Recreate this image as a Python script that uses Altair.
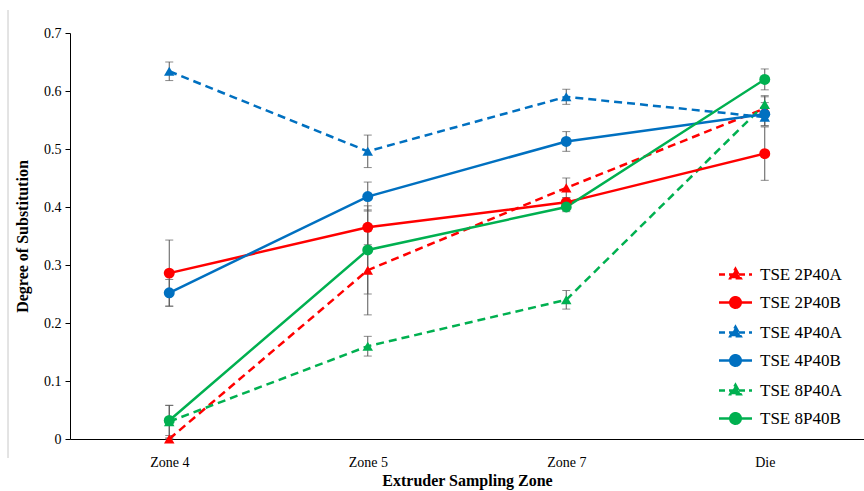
import altair as alt
import pandas as pd

zones = ["Zone 4", "Zone 5", "Zone 7", "Die"]
series = ["TSE 2P40A", "TSE 2P40B", "TSE 4P40A", "TSE 4P40B", "TSE 8P40A", "TSE 8P40B"]
colors = ["#FF0000", "#FF0000", "#0070C0", "#0070C0", "#00B050", "#00B050"]

v_2P40A = [0.000, 0.291, 0.433, 0.570]
v_2P40B = [0.286, 0.365, 0.408, 0.492]
v_4P40A = [0.634, 0.496, 0.590, 0.555]
v_4P40B = [0.252, 0.418, 0.513, 0.560]
v_8P40A = [0.030, 0.160, 0.240, 0.577]
v_8P40B = [0.032, 0.326, 0.400, 0.620]

e_2P40A = [0.000, 0.077, 0.017, 0.020]
e_2P40B = [0.057, 0.030, 0.008, 0.046]
e_4P40A = [0.016, 0.028, 0.013, 0.015]
e_4P40B = [0.023, 0.025, 0.017, 0.020]
e_8P40A = [0.028, 0.017, 0.016, 0.015]
e_8P40B = [0.026, 0.076, 0.008, 0.018]

values = [v_2P40A, v_2P40B, v_4P40A, v_4P40B, v_8P40A, v_8P40B]
errors = [e_2P40A, e_2P40B, e_4P40A, e_4P40B, e_8P40A, e_8P40B]

rows = []
for s, vals, errs in zip(series, values, errors):
    for z, v, e in zip(zones, vals, errs):
        rows.append({"zone": z, "series": s, "value": v, "lo": v - e, "hi": v + e,
                     "kind": "A" if s.endswith("A") else "B"})
df = pd.DataFrame(rows)

FONT = "Liberation Serif"

tri = "M0,-1.15 L1.05,0.75 L-1.05,0.75 Z"
circ = "M1.05,0 A1.05,1.05 0 1,1 -1.05,0 A1.05,1.05 0 1,1 1.05,0 Z"
line_seg = "M-3.3,0 L3.3,0 "
shapes = [line_seg + (tri if s.endswith("A") else circ) for s in series]
dashes = [[6, 4] if s.endswith("A") else [1, 0] for s in series]

x_enc = alt.X("zone:N", sort=zones, scale=alt.Scale(type="point", padding=0.5),
              axis=alt.Axis(title="Extruder Sampling Zone", labelAngle=0, ticks=False,
                            labelPadding=16, titlePadding=3, domainColor="black"))
y_scale = alt.Scale(domain=[0, 0.7], nice=False)
y_enc = alt.Y("value:Q", scale=y_scale,
              axis=alt.Axis(title="Degree of Substitution", values=[0, 0.1, 0.2, 0.3, 0.4, 0.5, 0.6, 0.7],
                            labelExpr="datum.value == 0 ? '0' : format(datum.value, '.1f')",
                            grid=False, tickSize=5, tickColor="black", domainColor="black",
                            labelPadding=4, titlePadding=13))

base = alt.Chart(df)

legend = alt.Legend(title=None, orient="none", legendX=657, legendY=233,
                    labelFont=FONT, labelFontSize=17, labelColor="black",
                    labelOffset=16, rowPadding=8, symbolSize=100, symbolStrokeWidth=2.5,
                    symbolOpacity=1, padding=0)

legend_layer = base.mark_point(filled=True, opacity=0, size=100).encode(
    x=x_enc, y=y_enc,
    fill=alt.Fill("series:N", scale=alt.Scale(domain=series, range=colors), legend=legend),
    stroke=alt.Stroke("series:N", scale=alt.Scale(domain=series, range=colors), legend=legend),
    shape=alt.Shape("series:N", scale=alt.Scale(domain=series, range=shapes), legend=legend),
    strokeDash=alt.StrokeDash("series:N", scale=alt.Scale(domain=series, range=dashes), legend=legend),
)

err_rule = base.mark_rule(color="#595959", strokeWidth=1).encode(
    x=x_enc, y=alt.Y("lo:Q", scale=y_scale), y2="hi:Q")
cap_lo = base.mark_tick(color="#595959", size=8, thickness=1).encode(
    x=x_enc, y=alt.Y("lo:Q", scale=y_scale))
cap_hi = base.mark_tick(color="#595959", size=8, thickness=1).encode(
    x=x_enc, y=alt.Y("hi:Q", scale=y_scale))

col = alt.Color("series:N", scale=alt.Scale(domain=series, range=colors), legend=None)

lines_a = base.transform_filter("datum.kind == 'A'").mark_line(strokeWidth=2.5, strokeDash=[8, 5]).encode(
    x=x_enc, y=y_enc, color=col, detail="series:N")
lines_b = base.transform_filter("datum.kind == 'B'").mark_line(strokeWidth=2.5).encode(
    x=x_enc, y=y_enc, color=col, detail="series:N")
pts_a = base.transform_filter("datum.kind == 'A'").mark_point(shape="triangle-up", filled=True, size=110, opacity=1).encode(
    x=x_enc, y=y_enc, color=col)
pts_b = base.transform_filter("datum.kind == 'B'").mark_point(shape="circle", filled=True, size=120, opacity=1).encode(
    x=x_enc, y=y_enc, color=col)

border = alt.Chart(pd.DataFrame({"a": [0]})).mark_rule(color="#c8c8c8", strokeWidth=1).encode(
    x=alt.value(-62), y=alt.value(-23), y2=alt.value(425))

chart = alt.layer(legend_layer, err_rule, cap_lo, cap_hi, lines_a, lines_b, pts_a, pts_b, border).properties(
    width=794, height=406,
    autosize=alt.AutoSizeParams(type="none"),
    padding={"left": 70, "top": 33, "right": 0, "bottom": 52},
    background="white",
).configure_view(stroke=None).configure_axis(
    labelFont=FONT, titleFont=FONT, labelFontSize=14, titleFontSize=16, titleFontWeight="bold",
    labelColor="black", titleColor="black"
)

chart.save("out.html", embed_options={"renderer": "svg", "actions": False})
